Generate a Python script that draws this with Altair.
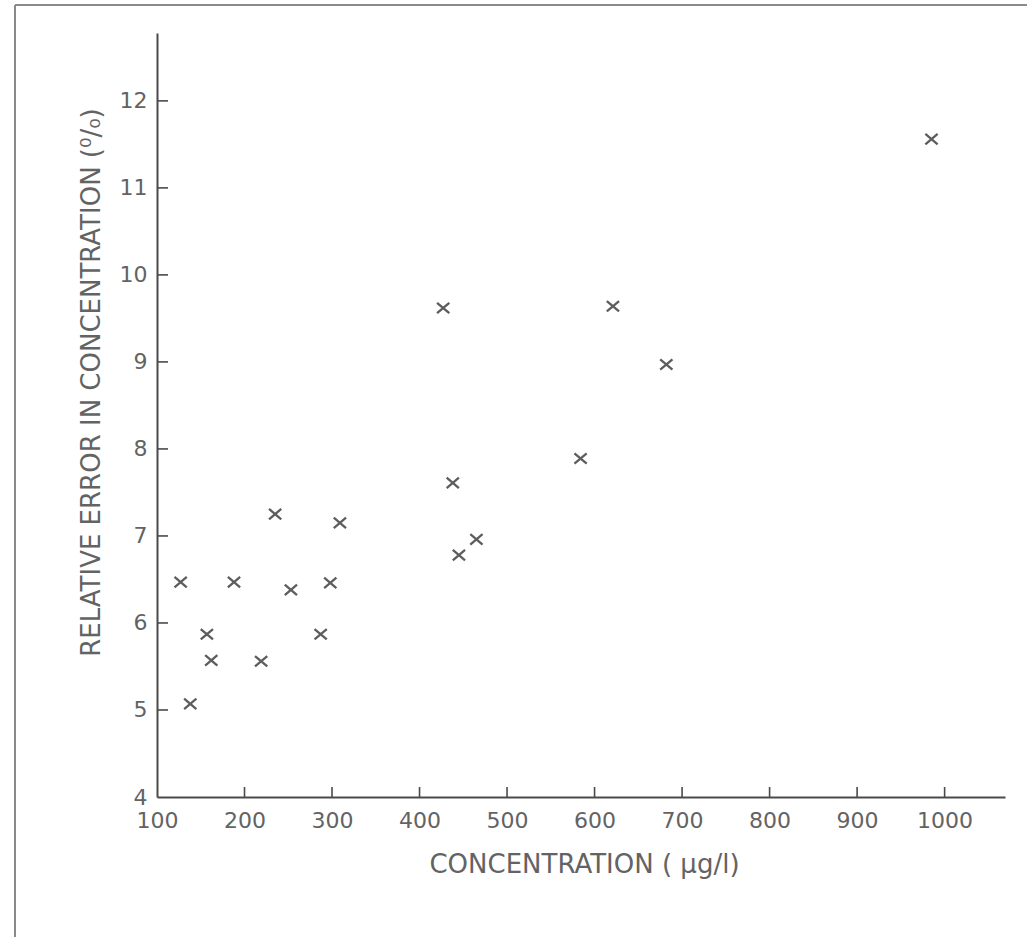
import altair as alt
import pandas as pd

# data
concentration = [127, 138, 157, 162, 188, 219, 235, 253, 287, 298, 309,
                 427, 438, 445, 465, 584, 621, 682, 985]
rel_error = [6.47, 5.07, 5.87, 5.57, 6.47, 5.56, 7.25, 6.38, 5.87, 6.46, 7.15,
             9.62, 7.61, 6.78, 6.96, 7.89, 9.64, 8.97, 11.56]
x_ticks = [100, 200, 300, 400, 500, 600, 700, 800, 900, 1000]
y_ticks = [4, 5, 6, 7, 8, 9, 10, 11, 12]

W, H = 848, 764
INK = "#4a4a4a"
TXT = "#636363"
FONT = "DejaVu Sans"

df = pd.DataFrame({"conc": concentration, "err": rel_error})
xt = pd.DataFrame({"conc": x_ticks[1:]})
yt = pd.DataFrame({"err": y_ticks[1:]})

xscale = alt.Scale(domain=[100, 1069], nice=False, zero=False)
yscale = alt.Scale(domain=[4, 12.78], nice=False, zero=False)

xaxis = alt.Axis(values=x_ticks, format="d", title="CONCENTRATION ( µg/l)",
                 tickSize=0, labelPadding=13, labelFlush=False,
                 domainColor=INK, domainWidth=2, grid=False,
                 labelFont=FONT, labelFontSize=22, labelColor=TXT,
                 titleFont=FONT, titleFontSize=26, titleFontWeight="normal",
                 titleColor=TXT, titleX=427, titleY=67,
                 titleBaseline="middle", titleAlign="center")
yaxis = alt.Axis(values=y_ticks, format="d", title="RELATIVE ERROR IN CONCENTRATION (⁰/₀)",
                 tickSize=0, labelPadding=10, labelFlush=False,
                 domainColor=INK, domainWidth=2, grid=False,
                 labelFont=FONT, labelFontSize=22, labelColor=TXT,
                 titleFont=FONT, titleFontSize=26, titleFontWeight="normal",
                 titleColor=TXT, titleX=-66, titleY=349, titleAngle=270,
                 titleBaseline="middle", titleAlign="center")

points = alt.Chart(df).mark_point(
    shape="M-1,-0.85L1,0.85M-1,0.85L1,-0.85",
    filled=False, size=150, strokeWidth=2.3, color="#4c4c4c", opacity=0.9,
).encode(
    x=alt.X("conc:Q", scale=xscale, axis=xaxis),
    y=alt.Y("err:Q", scale=yscale, axis=yaxis),
)

xtick_marks = alt.Chart(xt).mark_rule(color=INK, strokeWidth=1.6).encode(
    x=alt.X("conc:Q", scale=xscale, axis=xaxis),
    y=alt.value(H), y2=alt.value(H - 10),
)
ytick_marks = alt.Chart(yt).mark_rule(color=INK, strokeWidth=1.6).encode(
    y=alt.Y("err:Q", scale=yscale, axis=yaxis),
    x=alt.value(0), x2=alt.value(11),
)

# scanned page border (top and left)
border_top = alt.Chart(pd.DataFrame({"k": [0]})).mark_rule(color="#8a8a8a", strokeWidth=2).encode(
    x=alt.value(-142), x2=alt.value(1027 - 157), y=alt.value(-28))
border_left = alt.Chart(pd.DataFrame({"k": [0]})).mark_rule(color="#8a8a8a", strokeWidth=2).encode(
    x=alt.value(-142), y=alt.value(-28), y2=alt.value(937 - 33))

chart = alt.layer(points, xtick_marks, ytick_marks, border_top, border_left).properties(
    width=W, height=H,
    autosize=alt.AutoSizeParams(type="none"),
    padding={"left": 157, "top": 33, "right": 22, "bottom": 140},
    background="white",
).configure_view(stroke=None)

chart.save("out.html", embed_options={"renderer": "svg", "actions": False})
